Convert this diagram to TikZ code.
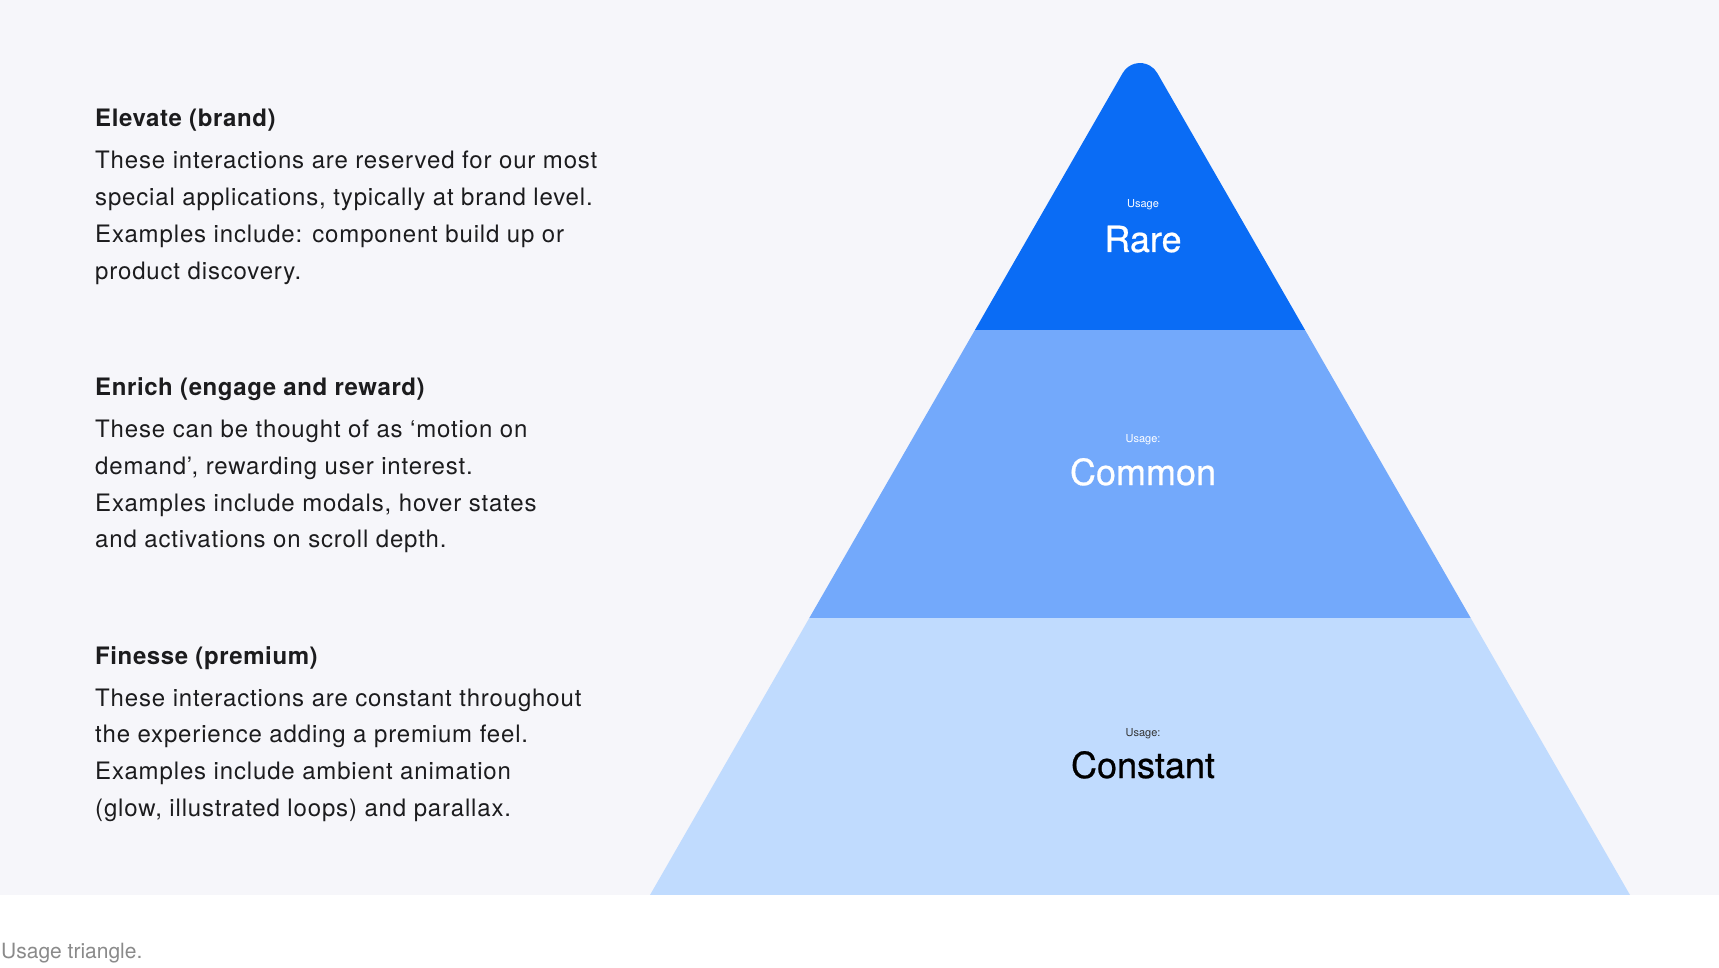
\documentclass[tikz,border=0pt]{standalone}
\usepackage{fontspec}
\setmainfont{TeX Gyre Heros}
\newfontfamily\medfont[FakeBold=0.6]{TeX Gyre Heros}
\newfontfamily\bodyfont[LetterSpace=3.5]{TeX Gyre Heros}
\newfontfamily\headfont[LetterSpace=2.5]{TeX Gyre Heros Bold}
\definecolor{panel}{HTML}{F6F6FA}
\definecolor{rareblue}{HTML}{0A6CF5}
\definecolor{commonblue}{HTML}{73A9FB}
\definecolor{constblue}{HTML}{C0DBFE}
\definecolor{bodytext}{HTML}{1C1C1E}
\definecolor{capgray}{HTML}{8A8A8A}
\begin{document}
\begin{tikzpicture}[x=1pt,y=-1pt,
  line/.style={anchor=base west,inner sep=0pt,text=bodytext,font=\fontsize{24}{29}\bodyfont},
  head/.style={line,font=\fontsize{24}{29}\headfont},
  small/.style={anchor=base,inner sep=0pt,font=\fontsize{11}{13}\selectfont},
  big/.style={anchor=base,inner sep=0pt,font=\fontsize{36}{40}\medfont}]
\useasboundingbox (0,0) rectangle (1719,968);
\fill[white] (0,0) rectangle (1719,968);
\fill[panel] (0,0) rectangle (1719,895);
% pyramid
\begin{scope}
  \clip (650,895) -- (1122.75,72.98) arc[start angle=210, end angle=330, radius=19.9] -- (1630,895) -- cycle;
  \fill[constblue] (600,618) rectangle (1700,895);
  \fill[commonblue] (600,330) rectangle (1700,618);
  \fill[rareblue] (600,0) rectangle (1700,330);
\end{scope}
\node[small,text=white] (u1) at (1143,208) {Usage};
\node[big,text=white] (rare) at (1143,252) {Rare};
\node[small,text=white] (u2) at (1143,442) {Usage:};
\node[big,text=white] (common) at (1143,485) {Common};
\node[small,text=black!80] (u3) at (1143,736) {Usage:};
\node[big,text=black] (constant) at (1143,778) {Constant};
% left texts
\node[head] (h1) at (95,127) {Elevate (brand)};
\node[line] (a1) at (95,169) {These interactions are reserved for our most};
\node[line] (a2) at (95,205.7) {special applications, typically at brand level.};
\node[line] (a3) at (95,242.4) {Examples include: component build up or};
\node[line] (a4) at (95,279.1) {product discovery.};
\node[head] (h2) at (95,395.6) {Enrich (engage and reward)};
\node[line] (b1) at (95,437.6) {These can be thought of as ‘motion on};
\node[line] (b2) at (95,474.3) {demand’, rewarding user interest.};
\node[line] (b3) at (95,511) {Examples include modals, hover states};
\node[line] (b4) at (95,547.7) {and activations on scroll depth.};
\node[head] (h3) at (95,664) {Finesse (premium)};
\node[line] (c1) at (95,706) {These interactions are constant throughout};
\node[line] (c2) at (95,742.7) {the experience adding a premium feel.};
\node[line] (c3) at (95,779.4) {Examples include ambient animation};
\node[line] (c4) at (95,816.1) {(glow, illustrated loops) and parallax.};
% caption
\node[anchor=base west,inner sep=0pt,text=capgray,font=\fontsize{21}{25}\selectfont] (cap) at (1,958) {Usage triangle.};
\end{tikzpicture}
\end{document}
